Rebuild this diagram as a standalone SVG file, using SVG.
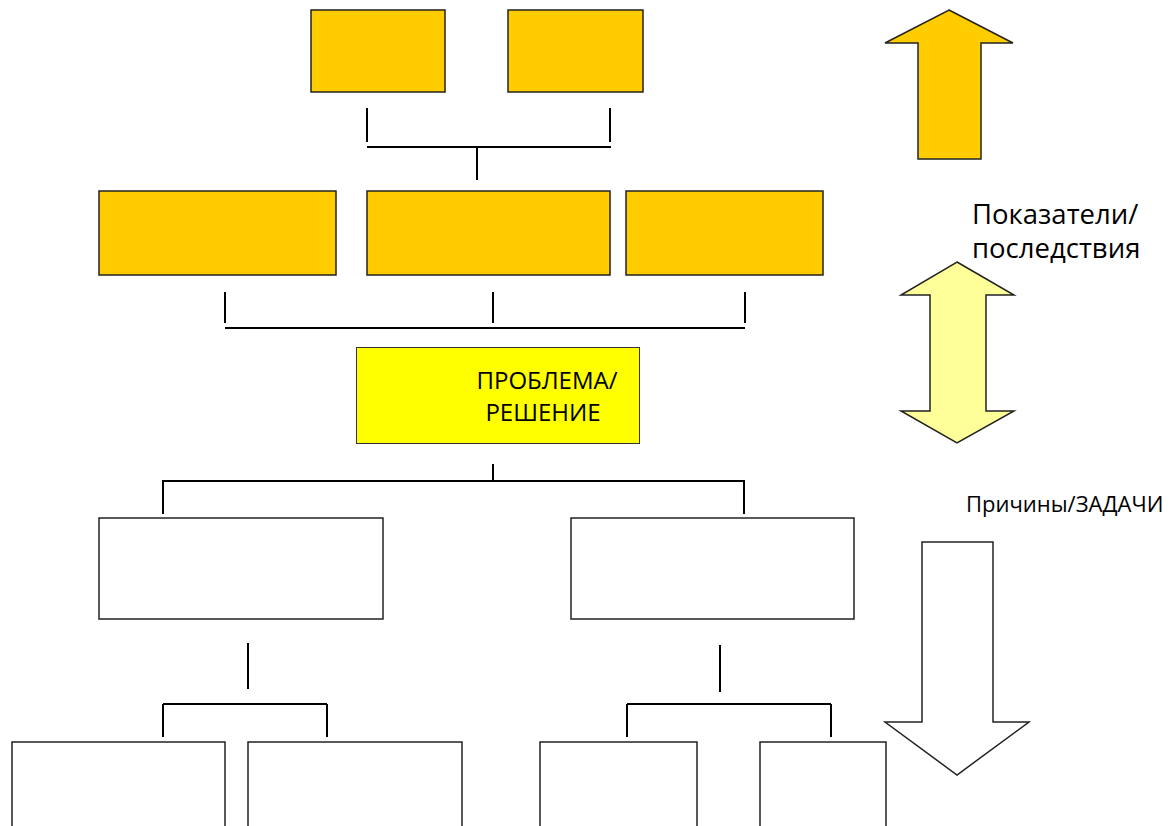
<svg xmlns="http://www.w3.org/2000/svg" width="1174" height="826" viewBox="0 0 1174 826">
<style>
.orange{fill:#FFCC00;stroke:#222;stroke-width:1.5}
.white{fill:#FFFFFF;stroke:#222;stroke-width:1.5}
.prob{fill:#FFFF00;stroke:#333;stroke-width:1}
.conn{stroke:#000;stroke-width:2;fill:none}
.lbl{font-family:"Open Sans","Liberation Sans",sans-serif;fill:#000}
</style>
<rect width="1174" height="826" fill="#FFFFFF"/>
<g id="top-left"><rect class="orange" x="311" y="10" width="134" height="82"/></g>
<g id="top-right"><rect class="orange" x="508" y="10" width="135" height="82"/></g>
<g id="mid-left"><rect class="orange" x="99" y="191" width="237" height="84"/></g>
<g id="mid-center"><rect class="orange" x="367" y="191" width="243" height="84"/></g>
<g id="mid-right"><rect class="orange" x="626" y="191" width="197" height="84"/></g>
<g id="problem"><rect class="prob" x="356.5" y="347.5" width="283" height="96"/>
<text class="lbl" font-size="24" x="547" y="389" text-anchor="middle">ПРОБЛЕМА/</text>
<text class="lbl" font-size="24" x="543" y="421" text-anchor="middle">РЕШЕНИЕ</text></g>
<g id="cause-left"><rect class="white" x="99" y="518" width="284" height="101"/></g>
<g id="cause-right"><rect class="white" x="571" y="518" width="283" height="101"/></g>
<g id="sub-1"><rect class="white" x="12" y="742" width="213" height="100"/></g>
<g id="sub-2"><rect class="white" x="248" y="742" width="214" height="100"/></g>
<g id="sub-3"><rect class="white" x="540" y="742" width="157" height="100"/></g>
<g id="sub-4"><rect class="white" x="760" y="742" width="126" height="100"/></g>
<g id="arrow-up"><polygon class="orange" points="949,10 1013,43 981,43 981,159 918,159 918,43 885,43"/></g>
<g id="arrow-both"><polygon points="957,262 1014,295 986,295 986,411 1014,411 957,443 901,411 930,411 930,295 901,295" fill="#FFFF99" stroke="#222" stroke-width="1.5"/></g>
<g id="arrow-down"><polygon class="white" points="922,542 993,542 993,722 1029,722 957,775 885,722 922,722"/></g>
<g id="labels">
<text class="lbl" font-size="27.5" x="972" y="224">Показатели/</text>
<text class="lbl" font-size="27.5" x="972" y="258">последствия</text>
<text class="lbl" font-size="22" x="966" y="512">Причины/ЗАДАЧИ</text>
</g>
<g id="connectors" class="conn">
<path d="M367,108V142M610,108V142M367,147H611M477,147V180"/>
<path d="M225,292V323M493,292V323M745,292V323M225,328H745"/>
<path d="M493,464V481M163,481H744M163,480V514M744,480V514"/>
<path d="M248,643V689M163,704V737M327,704V737M163,704H327"/>
<path d="M720,645V692M627,704V737M831,704V737M627,704H831"/>
</g>
</svg>
